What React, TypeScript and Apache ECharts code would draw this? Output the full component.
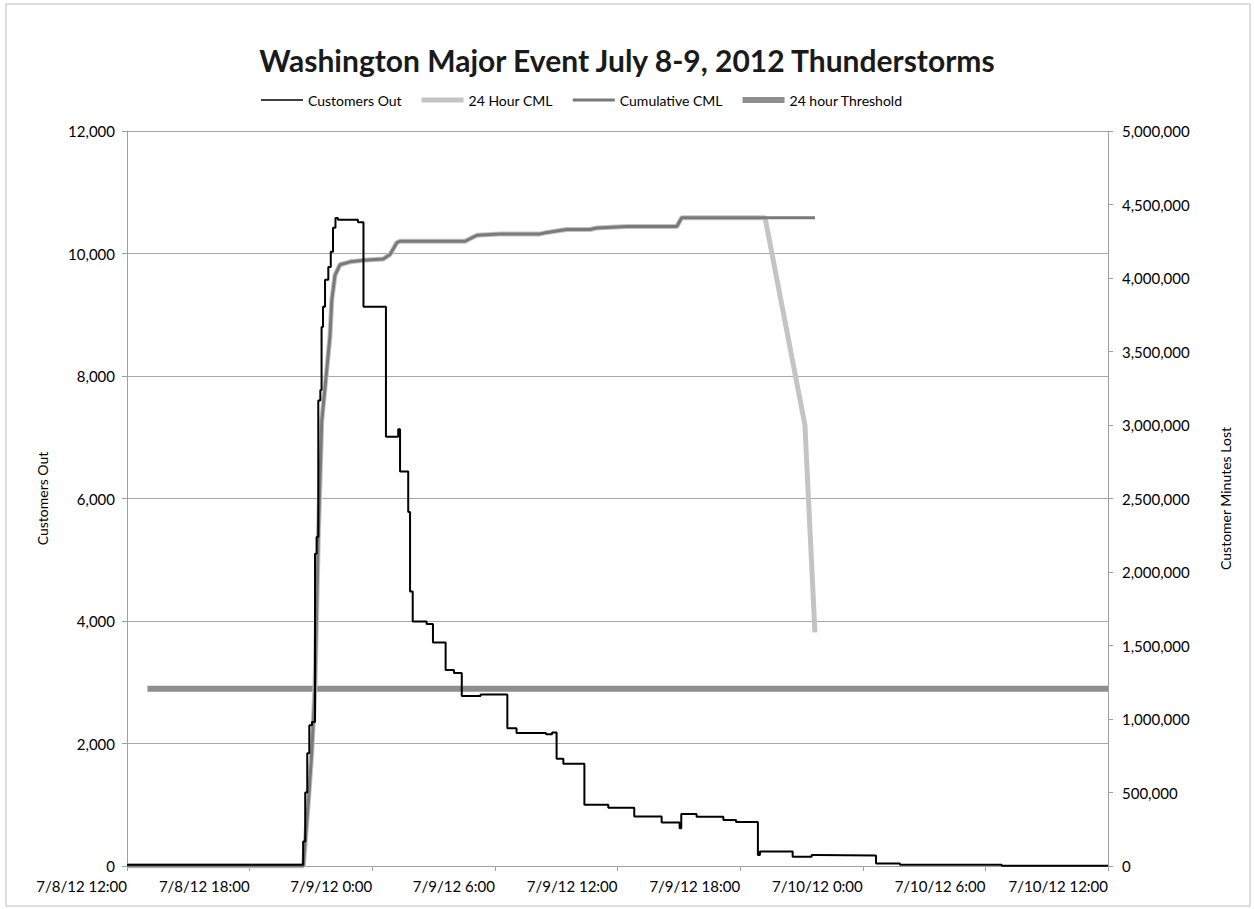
import React, { useEffect, useRef } from "react";
import * as echarts from "echarts";

const xLabels = [
  "7/8/12 12:00",
  "7/8/12 18:00",
  "7/9/12 0:00",
  "7/9/12 6:00",
  "7/9/12 12:00",
  "7/9/12 18:00",
  "7/10/12 0:00",
  "7/10/12 6:00",
  "7/10/12 12:00",
];

// [hours since 7/8/12 12:00, customers out]
const customersOut: [number, number][] = [
  [0, 20], [8.62, 400], [8.72, 1200], [8.82, 1840], [8.92, 2300], [9.05, 2350],
  [9.2, 5100], [9.28, 5370], [9.36, 7600], [9.46, 7770], [9.52, 8800], [9.59, 9130],
  [9.69, 9570], [9.85, 9780], [9.97, 10030], [10.08, 10420], [10.2, 10580],
  [10.32, 10550], [11.3, 10510], [11.57, 9130], [12.67, 7010], [13.27, 7130],
  [13.36, 6440], [13.76, 5780], [13.85, 4480], [13.98, 3990], [14.66, 3950],
  [14.97, 3650], [15.59, 3200], [16.0, 3150], [16.38, 2775], [17.3, 2800],
  [18.61, 2250], [19.06, 2170], [20.5, 2150], [20.8, 2180], [21.02, 1750],
  [21.35, 1670], [22.38, 1000], [23.55, 950], [24.82, 810], [26.16, 710],
  [27.04, 615], [27.12, 850], [27.87, 805], [29.18, 750], [29.8, 720],
  [30.87, 180], [30.97, 235], [32.57, 150], [33.5, 180], [33.75, 170],
  [36.65, 40], [37.82, 20], [42.8, 5], [48, 5],
];

// [hours, customer minutes lost]
const cml24Hour: [number, number][] = [
  [0, 0], [8.63, 0], [8.87, 428000], [9.04, 769000], [9.2, 1220000], [9.36, 2240000],
  [9.53, 3030000], [9.77, 3370000], [9.93, 3600000], [10.02, 3850000], [10.18, 4020000],
  [10.42, 4090000], [10.91, 4110000], [11.56, 4120000], [12.54, 4130000], [12.87, 4160000],
  [13.2, 4240000], [13.36, 4250000], [16.54, 4250000], [17.11, 4290000], [18.25, 4300000],
  [20.21, 4300000], [20.54, 4310000], [21.51, 4330000], [22.65, 4330000], [22.98, 4340000],
  [24.45, 4350000], [26.9, 4350000], [27.14, 4410000], [31.22, 4410000],
  [33.17, 3000000], [33.66, 1590000],
];

const cmlCumulative: [number, number][] = [
  [0, 0], [8.63, 0], [8.87, 428000], [9.04, 769000], [9.2, 1220000], [9.36, 2240000],
  [9.53, 3030000], [9.77, 3370000], [9.93, 3600000], [10.02, 3850000], [10.18, 4020000],
  [10.42, 4090000], [10.91, 4110000], [11.56, 4120000], [12.54, 4130000], [12.87, 4160000],
  [13.2, 4240000], [13.36, 4250000], [16.54, 4250000], [17.11, 4290000], [18.25, 4300000],
  [20.21, 4300000], [20.54, 4310000], [21.51, 4330000], [22.65, 4330000], [22.98, 4340000],
  [24.45, 4350000], [26.9, 4350000], [27.14, 4410000], [31.22, 4410000], [33.66, 4410000],
];

const threshold: [number, number][] = [
  [1, 1205000],
  [48, 1205000],
];

const FONT = "Lato, 'Open Sans', sans-serif";

const lineIcon = (h: number) => `path://M0,0 L42,0 L42,${h} L0,${h} Z`;

export default function App() {
  const ref = useRef<HTMLDivElement>(null);
  useEffect(() => {
    if (!ref.current) return;
    const chart = echarts.init(ref.current, null, { renderer: "svg" });
    const fmt = (v: number) => v.toLocaleString("en-US");
    chart.setOption({
      animation: false,
      backgroundColor: "#fff",
      textStyle: { fontFamily: FONT },
      title: {
        text: "Washington Major Event July 8-9, 2012 Thunderstorms",
        left: "center",
        top: 40,
        textStyle: { fontFamily: FONT, fontSize: 30, fontWeight: "bold", color: "#1a1a1a" },
      },
      legend: {
        top: 88,
        left: 256,
        itemWidth: 42,
        itemHeight: 10,
        itemGap: 20,
        textStyle: { fontFamily: FONT, fontSize: 14, color: "#000" },
        data: [
          { name: "Customers Out", icon: lineIcon(1.5) },
          { name: "24 Hour CML", icon: lineIcon(5) },
          { name: "Cumulative CML", icon: lineIcon(3) },
          { name: "24 hour Threshold", icon: lineIcon(6) },
        ],
      },
      graphic: [
        {
          type: "rect",
          shape: { x: 6, y: 4, width: 1244, height: 902 },
          style: { fill: "none", stroke: "#bdbdbd", lineWidth: 1 },
          silent: true,
        },
      ],
      grid: { left: 127, right: 146, top: 131, bottom: 43, containLabel: false },
      xAxis: {
        type: "value",
        min: 0,
        max: 48,
        interval: 6,
        axisLine: { lineStyle: { color: "#a0a0a0" } },
        axisTick: { show: true, length: 5, lineStyle: { color: "#a0a0a0" } },
        splitLine: { show: false },
        axisLabel: {
          formatter: (v: number) => xLabels[Math.round(v / 6)] ?? "",
          align: "right",
          margin: 12,
          fontFamily: FONT,
          fontSize: 15,
          color: "#000",
          showMinLabel: true,
          showMaxLabel: true,
        },
      },
      yAxis: [
        {
          type: "value",
          min: 0,
          max: 12000,
          interval: 2000,
          name: "Customers Out",
          nameLocation: "middle",
          nameGap: 78,
          nameTextStyle: { fontFamily: FONT, fontSize: 14, color: "#000" },
          axisLine: { show: true, lineStyle: { color: "#a0a0a0" } },
          axisTick: { show: true, length: 5, lineStyle: { color: "#a0a0a0" } },
          splitLine: { show: true, lineStyle: { color: "#a8a8a8", width: 1 } },
          axisLabel: { formatter: fmt, fontFamily: FONT, fontSize: 15, color: "#000", margin: 12 },
        },
        {
          type: "value",
          min: 0,
          max: 5000000,
          interval: 500000,
          name: "Customer Minutes Lost",
          nameLocation: "middle",
          nameGap: 110,
          nameRotate: 90,
          nameTextStyle: { fontFamily: FONT, fontSize: 14, color: "#000" },
          axisLine: { show: true, lineStyle: { color: "#a0a0a0" } },
          axisTick: { show: true, length: 5, lineStyle: { color: "#a0a0a0" } },
          splitLine: { show: false },
          axisLabel: { formatter: fmt, fontFamily: FONT, fontSize: 15, color: "#000", margin: 14 },
        },
      ],
      series: [
        {
          name: "24 hour Threshold",
          type: "line",
          yAxisIndex: 1,
          data: threshold,
          symbol: "none",
          lineStyle: { color: "#8e8e8e", width: 6 },
          itemStyle: { color: "#8e8e8e" },
          z: 1,
        },
        {
          name: "24 Hour CML",
          type: "line",
          yAxisIndex: 1,
          data: cml24Hour,
          symbol: "none",
          lineStyle: { color: "#c4c4c4", width: 5 },
          itemStyle: { color: "#c4c4c4" },
          z: 2,
        },
        {
          name: "Cumulative CML",
          type: "line",
          yAxisIndex: 1,
          data: cmlCumulative,
          symbol: "none",
          lineStyle: { color: "#7a7a7a", width: 3 },
          itemStyle: { color: "#7a7a7a" },
          z: 3,
        },
        {
          name: "Customers Out",
          type: "line",
          yAxisIndex: 0,
          data: customersOut,
          step: "end",
          symbol: "none",
          lineStyle: { color: "#000", width: 2 },
          itemStyle: { color: "#000" },
          z: 4,
        },
      ],
    });
    return () => chart.dispose();
  }, []);
  return (
    <div
      ref={ref}
      style={{ position: "absolute", left: 0, top: 0, width: 1254, height: 909 }}
    />
  );
}
